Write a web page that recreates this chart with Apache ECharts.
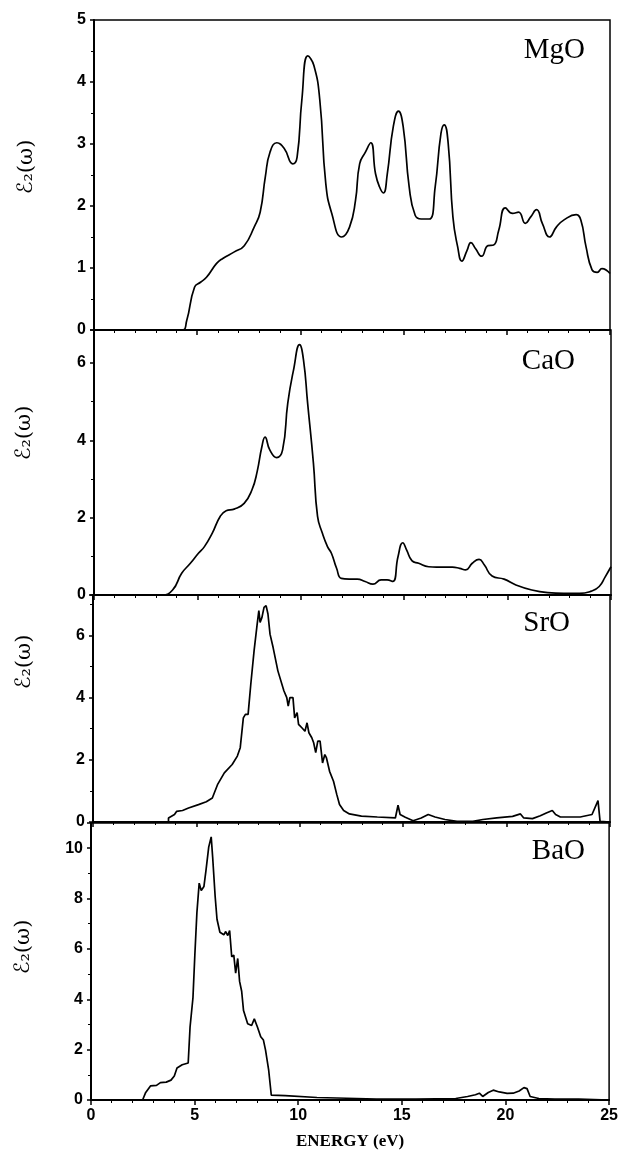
<!DOCTYPE html>
<html>
<head>
<meta charset="utf-8">
<script src="https://cdn.jsdelivr.net/npm/echarts@6/dist/echarts.min.js"></script>
<style>
  html, body { margin: 0; padding: 0; background: #fff; }
  #chart { width: 621px; height: 1151px; }
</style>
</head>
<body>
<div id="chart"></div>
<script>
// Imaginary part of the dielectric function, eps2(omega), vs photon energy (eV)
const mgoE = [0, 4.26, 4.49, 4.87, 5.16, 5.45, 5.93, 6.22, 6.8, 7.28, 7.76, 8.05, 8.3, 8.53, 8.86, 9.21, 9.63, 9.84, 10.07, 10.36, 10.65, 10.94, 11.23, 11.52, 12.0, 12.38, 12.67, 12.87, 13.15, 13.41, 13.64, 13.83, 14.02, 14.21, 14.5, 14.75, 14.98, 15.27, 15.56, 15.85, 16.24, 16.53, 16.81, 16.97, 17.16, 17.39, 17.62, 17.82, 18.07, 18.26, 18.49, 18.78, 19.09, 19.36, 19.61, 19.93, 20.28, 20.57, 20.9, 21.15, 21.44, 21.73, 22.07, 22.4, 22.79, 23.36, 23.59, 23.84, 24.13, 24.38, 24.61, 25.0];
const mgoEps = [0, 0, 0.15, 0.69, 0.77, 0.85, 1.07, 1.15, 1.26, 1.36, 1.66, 1.9, 2.47, 2.87, 3.02, 2.93, 2.68, 2.79, 3.71, 4.42, 4.27, 3.71, 2.36, 1.88, 1.5, 1.66, 2.09, 2.68, 2.87, 3.02, 2.52, 2.31, 2.21, 2.52, 3.28, 3.53, 3.28, 2.31, 1.85, 1.79, 1.79, 2.31, 3.17, 3.31, 3.01, 1.82, 1.34, 1.11, 1.28, 1.41, 1.31, 1.19, 1.36, 1.37, 1.61, 1.97, 1.88, 1.9, 1.72, 1.82, 1.94, 1.71, 1.5, 1.66, 1.78, 1.86, 1.77, 1.34, 0.97, 0.93, 0.99, 0.91];

const caoE = [0, 3.3, 3.8, 4.24, 4.66, 5.05, 5.34, 5.72, 6.1, 6.39, 6.78, 7.26, 7.64, 7.89, 8.12, 8.27, 8.5, 8.83, 9.12, 9.37, 9.65, 9.94, 10.13, 10.33, 10.61, 10.81, 11.04, 11.29, 11.48, 11.73, 11.96, 12.34, 12.73, 13.11, 13.49, 13.88, 14.17, 14.45, 14.7, 14.93, 15.12, 15.37, 15.7, 16.18, 16.56, 17.33, 17.68, 17.97, 18.29, 18.62, 18.87, 19.25, 19.83, 20.4, 21.17, 21.94, 22.71, 23.47, 24.05, 24.43, 24.72, 25.0];
const caoEps = [0, 0, 0.13, 0.56, 0.82, 1.08, 1.25, 1.6, 2.03, 2.18, 2.22, 2.37, 2.72, 3.19, 3.84, 4.08, 3.75, 3.55, 3.75, 4.96, 5.82, 6.47, 6.08, 4.96, 3.41, 2.03, 1.6, 1.25, 1.08, 0.69, 0.43, 0.41, 0.41, 0.35, 0.28, 0.39, 0.39, 0.35, 0.99, 1.35, 1.16, 0.89, 0.82, 0.73, 0.72, 0.72, 0.69, 0.65, 0.82, 0.92, 0.78, 0.49, 0.41, 0.26, 0.13, 0.06, 0.04, 0.04, 0.1, 0.22, 0.47, 0.73];

const sroE = [0, 3.65, 3.65, 3.94, 4.04, 4.33, 4.62, 5.1, 5.48, 5.77, 6.02, 6.35, 6.73, 6.98, 7.12, 7.27, 7.37, 7.5, 7.63, 7.79, 7.94, 8.02, 8.08, 8.17, 8.27, 8.37, 8.46, 8.56, 8.71, 8.94, 9.23, 9.37, 9.44, 9.52, 9.67, 9.75, 9.87, 9.94, 10.1, 10.25, 10.35, 10.44, 10.58, 10.67, 10.77, 10.87, 10.98, 11.1, 11.21, 11.29, 11.44, 11.63, 11.79, 11.92, 12.12, 12.4, 12.98, 13.75, 14.62, 14.75, 14.85, 15.1, 15.48, 15.87, 16.21, 16.54, 17.02, 17.6, 18.37, 18.85, 19.52, 20.29, 20.67, 20.83, 21.25, 21.63, 21.92, 22.21, 22.37, 22.6, 22.98, 23.56, 24.13, 24.42, 24.52, 25.0];
const sroEps = [0, 0, 0.13, 0.24, 0.34, 0.37, 0.45, 0.56, 0.65, 0.77, 1.2, 1.58, 1.85, 2.12, 2.39, 3.35, 3.46, 3.46, 4.43, 5.51, 6.37, 6.8, 6.42, 6.58, 6.9, 6.96, 6.69, 6.04, 5.61, 4.86, 4.22, 4.0, 3.73, 4.0, 4.0, 3.35, 3.52, 3.14, 3.03, 2.92, 3.19, 2.87, 2.71, 2.55, 2.23, 2.6, 2.6, 1.9, 2.17, 2.06, 1.63, 1.31, 0.88, 0.56, 0.37, 0.26, 0.19, 0.16, 0.13, 0.54, 0.24, 0.15, 0.04, 0.13, 0.24, 0.16, 0.08, 0.02, 0.02, 0.08, 0.13, 0.18, 0.26, 0.13, 0.11, 0.2, 0.29, 0.37, 0.24, 0.16, 0.16, 0.16, 0.24, 0.69, 0.02, 0];

const baoE = [0, 2.49, 2.64, 2.87, 3.16, 3.35, 3.63, 3.86, 4.02, 4.15, 4.4, 4.69, 4.78, 4.92, 5.01, 5.11, 5.22, 5.32, 5.45, 5.55, 5.68, 5.8, 5.87, 5.99, 6.08, 6.22, 6.41, 6.5, 6.6, 6.69, 6.79, 6.89, 6.98, 7.08, 7.17, 7.27, 7.36, 7.56, 7.75, 7.88, 8.03, 8.19, 8.32, 8.42, 8.57, 8.7, 9.37, 10.9, 11.86, 13.77, 15.68, 17.6, 18.17, 18.55, 18.74, 18.9, 19.17, 19.41, 19.7, 20.08, 20.37, 20.66, 20.89, 21.04, 21.19, 21.61, 22.38, 23.53, 25.0];
const baoEps = [0, 0, 0.3, 0.56, 0.58, 0.69, 0.71, 0.79, 0.95, 1.27, 1.4, 1.47, 2.9, 4.06, 5.75, 7.44, 8.61, 8.32, 8.48, 9.13, 10.04, 10.45, 9.65, 8.09, 7.18, 6.66, 6.56, 6.69, 6.53, 6.73, 5.69, 5.75, 5.04, 5.62, 4.71, 4.32, 3.55, 3.03, 2.96, 3.22, 2.9, 2.51, 2.38, 1.99, 1.21, 0.19, 0.17, 0.1, 0.08, 0.04, 0.04, 0.06, 0.14, 0.21, 0.27, 0.14, 0.3, 0.39, 0.32, 0.26, 0.27, 0.36, 0.49, 0.45, 0.14, 0.06, 0.04, 0.04, 0];

const compounds = ['MgO', 'CaO', 'SrO', 'BaO'];
const energyTicks = [0, 5, 10, 15, 20, 25];
const yMax = [5, 6.85, 7.3, 11];
const yStep = [1, 2, 2, 2];
const xTitle = 'ENERGY (eV)';
const yTitle = 'ℰ₂(ω)';

// panel frames (px)
const frames = [
  { left: 94, top: 20, width: 516, height: 310 },
  { left: 94, top: 330, width: 517, height: 265 },
  { left: 93, top: 595, width: 517, height: 227 },
  { left: 91, top: 823, width: 519, height: 283 }
];
const nameSpots = [[585, 50], [575, 361], [570, 623], [585, 851]];
const yTitleSpots = [[27, 167], [25, 433], [25, 662], [24, 947]];

const curves = [[mgoE, mgoEps], [caoE, caoEps], [sroE, sroEps], [baoE, baoEps]];
const smoothed = [0.5, 0.5, false, false];

const tickFont = { fontFamily: 'Liberation Sans, Arial, sans-serif', fontWeight: 'bold', fontSize: 16, color: '#000' };

const grid = frames.map(f => Object.assign({
  show: true, borderColor: '#000', borderWidth: 1.5, backgroundColor: 'transparent'
}, f));

const xAxis = frames.map((f, i) => ({
  gridIndex: i, type: 'value', min: energyTicks[0], max: energyTicks[energyTicks.length - 1],
  interval: energyTicks[1] - energyTicks[0],
  axisLine: { show: true, onZero: false, lineStyle: { color: '#000', width: 2 } },
  axisTick: { show: true, length: 5, lineStyle: { color: '#000', width: 1.5 } },
  minorTick: { show: true, splitNumber: 5, length: 3, lineStyle: { color: '#000', width: 1 } },
  splitLine: { show: false },
  axisLabel: Object.assign({ show: i === 3, margin: 8 }, tickFont),
  name: i === 3 ? xTitle : '',
  nameLocation: 'middle', nameGap: 33,
  nameTextStyle: { fontFamily: 'Liberation Serif, Times New Roman, serif', fontWeight: 'bold', fontSize: 17, color: '#000' }
}));

const yAxis = frames.map((f, i) => ({
  gridIndex: i, type: 'value', min: 0, max: yMax[i], interval: yStep[i],
  axisLine: { show: true, lineStyle: { color: '#000', width: 2 } },
  axisTick: { show: true, length: 4, lineStyle: { color: '#000', width: 1.5 } },
  minorTick: { show: true, splitNumber: 2, length: 3, lineStyle: { color: '#000', width: 1 } },
  splitLine: { show: false },
  axisLabel: Object.assign({
    margin: 8,
    formatter: v => {
      const k = v / yStep[i];
      return Math.abs(k - Math.round(k)) < 1e-6 ? String(Math.round(v)) : '';
    }
  }, tickFont)
}));

const series = curves.map((c, i) => ({
  type: 'line', xAxisIndex: i, yAxisIndex: i,
  data: c[0].map((e, j) => [e, c[1][j]]),
  showSymbol: false, symbol: 'none',
  smooth: smoothed[i],
  lineStyle: { color: '#000', width: 1.7 },
  silent: true, animation: false
}));

const graphic = [];
compounds.forEach((name, i) => {
  graphic.push({
    type: 'text', x: nameSpots[i][0], y: nameSpots[i][1],
    style: { text: name, fill: '#000', font: '29px "Liberation Serif", "Times New Roman", serif',
             textAlign: 'right', textVerticalAlign: 'middle' }
  });
  graphic.push({
    type: 'text', x: yTitleSpots[i][0], y: yTitleSpots[i][1], rotation: Math.PI / 2,
    style: { text: yTitle, fill: '#000', font: '21px "DejaVu Serif", "DejaVu Sans", serif',
             textAlign: 'center', textVerticalAlign: 'middle' }
  });
});

const chart = echarts.init(document.getElementById('chart'), null, { renderer: 'canvas' });
chart.setOption({
  backgroundColor: '#fff',
  animation: false,
  grid, xAxis, yAxis, series, graphic
});
</script>
</body>
</html>
